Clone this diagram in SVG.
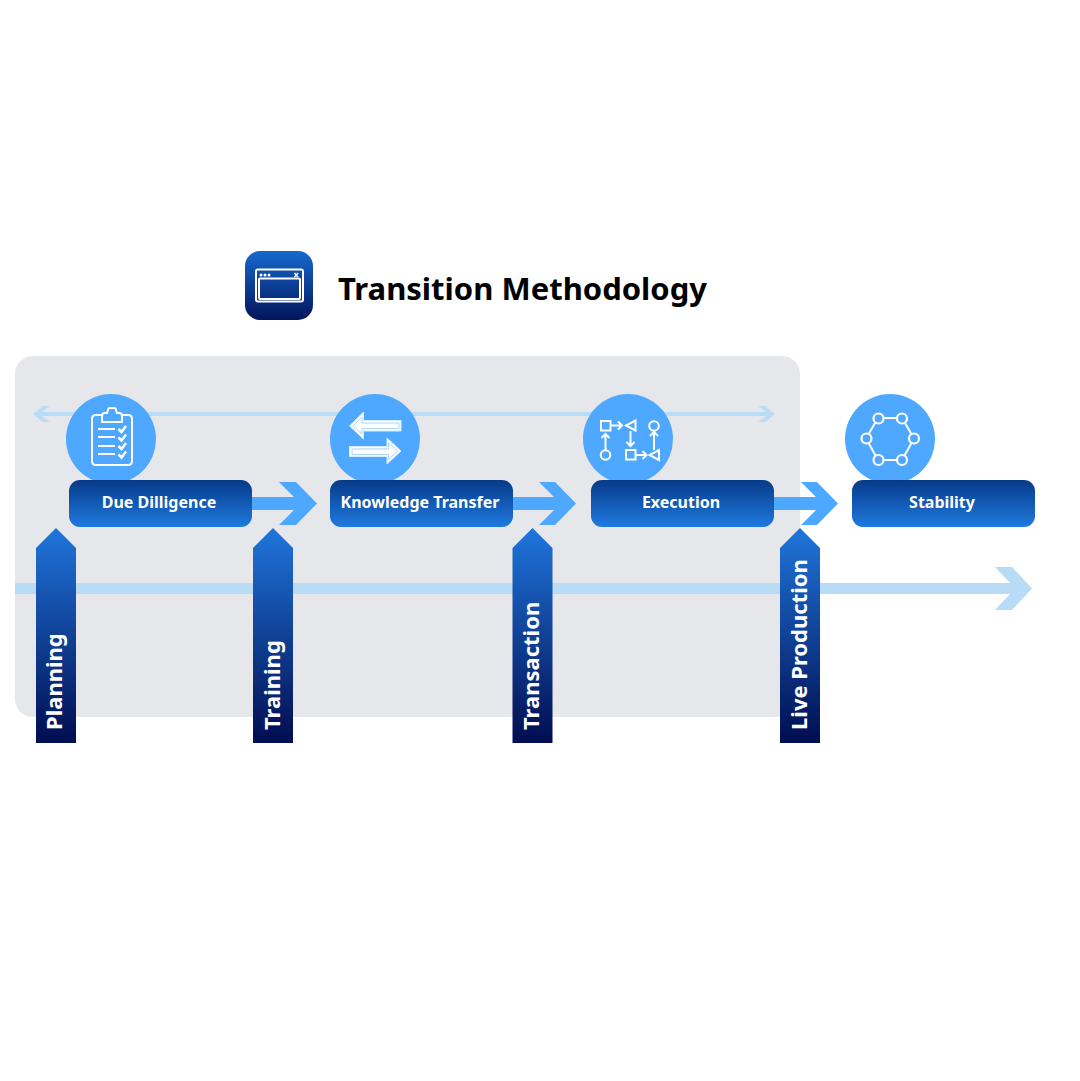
<svg xmlns="http://www.w3.org/2000/svg" width="1080" height="1081" viewBox="0 0 1080 1081">
<defs>
<linearGradient id="box" x1="0" y1="0" x2="0" y2="1"><stop offset="0" stop-color="#063a88"/><stop offset="1" stop-color="#1f7ae0"/></linearGradient>
<linearGradient id="up" x1="0" y1="0" x2="0" y2="1"><stop offset="0" stop-color="#1f76dc"/><stop offset="1" stop-color="#010d50"/></linearGradient>
<linearGradient id="ic" x1="0" y1="0" x2="0" y2="1"><stop offset="0" stop-color="#1669cf"/><stop offset="1" stop-color="#03145c"/></linearGradient>
</defs>
<style>
text{font-family:"Noto Sans","Open Sans",sans-serif;font-weight:700}
.lbl{font-size:16px;fill:#fff;text-anchor:middle}
.vl{font-size:22px;fill:#fff}
.circ{fill:#4fa8ff}
.ln{fill:none;stroke:#fff;stroke-width:2}
.th{fill:none;stroke:#fff;stroke-width:1.500}
.ck{fill:none;stroke:#fff;stroke-width:2.500}
.dbl{fill:#fff;stroke:#d8ecff;stroke-width:1}
.in{fill:none;stroke:#a9d4ff;stroke-width:1}
.pale{fill:#b8dbf6}
.blue{fill:#4fa8ff}
</style>
<rect width="1080" height="1081" fill="#fff"/>
<rect x="15" y="356" width="785" height="361" rx="18" fill="#e6e7ea"/>
<g id="connectors">
<path class="pale" d="M15 583H1010L995 567H1012L1032 588.500L1012 610H995L1010 594H15Z"/>
<path class="pale" d="M42 412H766L758 406H765L775 414L765 422H758L766 416H42L50 422H43L33 414L43 406H50Z"/>
<path class="blue" d="M252 497H294L279 482H296L317 503.500L296 525H279L294 510H252Z"/>
<path class="blue" d="M513 497H554L539 482H555L576 503.500L555 525H539L554 510H513Z"/>
<path class="blue" d="M774 497H816L801 482H817L838 503.500L817 525H801L816 510H774Z"/>
</g>
<g id="title">
<rect x="245" y="251" width="68" height="69" rx="15" fill="url(#ic)"/>
<rect x="256" y="269.500" width="47" height="32" rx="2" class="ln"/>
<rect x="259" y="278.500" width="41" height="20.500" rx="1" class="ln"/>
<circle cx="261" cy="275" r="1.500" fill="#fff"/><circle cx="265" cy="275" r="1.500" fill="#fff"/><circle cx="269" cy="275" r="1.500" fill="#fff"/>
<path d="M294.500 273L298 277M298 273L294.500 277" class="th"/>
<text x="338" y="300" font-size="31" fill="#000">Transition Methodology</text>
</g>
<g id="due-dilligence">
<circle class="circ" cx="111" cy="439" r="45"/>
<path class="ln" d="M102 415H96Q92 415 92 419V461Q92 465 96 465H128Q132 465 132 461V419Q132 415 128 415H122"/>
<path class="ln" d="M102 422V416Q102 413 105 413H107L108 410Q108 408 110 408H114Q116 408 116 410L117 413H119Q122 413 122 416V422Z"/>
<path class="ln" d="M98 429H115M98 437H115M98 446H115M98 454H115"/>
<path class="ck" d="M118.500 429L121.500 432L126 426M118.500 437.500L121.500 440.500L126 434.500M118.500 446L121.500 449L126 443M118.500 454.500L121.500 457.500L126 451.500"/>
<rect x="69" y="480" width="183" height="47" rx="11" fill="url(#box)"/>
<text class="lbl" x="159" y="508">Due Dilligence</text>
</g>
<g id="knowledge-transfer">
<circle class="circ" cx="375" cy="439" r="45"/>
<path class="dbl" d="M349.500 426L363.500 412V420.500H401V431H363.500V439Z"/>
<path class="in" d="M353 426L362 417V423H399V428.500H362V434Z"/>
<path class="dbl" d="M401 451L387 438V446.500H349.500V456.500H387V464Z"/>
<path class="in" d="M397.500 451L388.500 443V449H352V454.500H388.500V459.500Z"/>
<rect x="330" y="480" width="183" height="47" rx="11" fill="url(#box)"/>
<text class="lbl" x="420" y="508">Knowledge Transfer</text>
</g>
<g id="execution">
<circle class="circ" cx="628" cy="439" r="45"/>
<rect x="601" y="421" width="9.500" height="9.500" class="ln"/>
<rect x="626" y="450" width="9.500" height="9.500" class="ln"/>
<circle cx="605.500" cy="455" r="4.800" class="ln"/>
<circle cx="654" cy="426" r="4.800" class="ln"/>
<path class="ln" d="M635.500 420.500V430.500L626 425.500Z"/>
<path class="ln" d="M659 450V460L649.500 455Z"/>
<path class="ln" d="M610 425.500H622M618 421.500L622 425.500L618 429.500M635 455H646.500M642.500 451L646.500 455L642.500 459M605.500 450V434M601.500 438L605.500 434L609.500 438M630.500 431V446M626.500 442L630.500 446L634.500 442M654 450V432M650 436L654 432L658 436"/>
<rect x="591" y="480" width="183" height="47" rx="11" fill="url(#box)"/>
<text class="lbl" x="681" y="508">Execution</text>
</g>
<g id="stability">
<circle class="circ" cx="890" cy="439" r="45"/>
<path class="ln" d="M878 418H902L914 438.500L902 460H878L866 438.500Z"/>
<g fill="#4fa8ff" stroke="#fff" stroke-width="2.200"><circle cx="878.500" cy="418.500" r="5"/><circle cx="902" cy="418.500" r="5"/><circle cx="914" cy="438.500" r="5"/><circle cx="902" cy="460" r="5"/><circle cx="878.500" cy="460" r="5"/><circle cx="866.500" cy="438.500" r="5"/></g>
<rect x="852" y="480" width="183" height="47" rx="11" fill="url(#box)"/>
<text class="lbl" x="942" y="508">Stability</text>
</g>
<g id="planning">
<path d="M36 548L56 528L76 548V743H36Z" fill="url(#up)"/>
<text class="vl" transform="translate(62 730) rotate(-90)">Planning</text>
</g>
<g id="training">
<path d="M253 548L273 528L293 548V743H253Z" fill="url(#up)"/>
<text class="vl" transform="translate(279.500 730) rotate(-90)">Training</text>
</g>
<g id="transaction">
<path d="M512.500 548L532.500 528L552.500 548V743H512.500Z" fill="url(#up)"/>
<text class="vl" transform="translate(539 730) rotate(-90)">Transaction</text>
</g>
<g id="live-production">
<path d="M780 548L800 528L820 548V743H780Z" fill="url(#up)"/>
<text class="vl" transform="translate(806.500 730) rotate(-90)">Live Production</text>
</g>
</svg>
